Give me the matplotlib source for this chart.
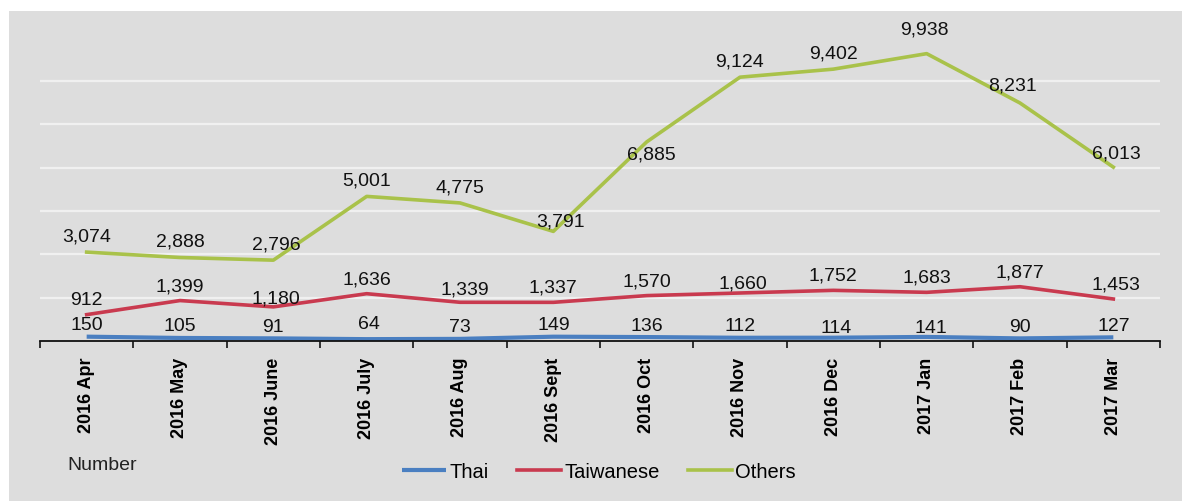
import matplotlib.pyplot as plt
import numpy as np
from matplotlib.patches import Rectangle

plt.rcParams['font.family'] = ['Liberation Sans', 'DejaVu Sans']

# monthly numbers, Apr 2016 - Mar 2017
months = ['2016 Apr', '2016 May', '2016 June', '2016 July', '2016 Aug',
          '2016 Sept', '2016 Oct', '2016 Nov', '2016 Dec', '2017 Jan',
          '2017 Feb', '2017 Mar']
thai = [150, 105, 91, 64, 73, 149, 136, 112, 114, 141, 90, 127]
taiwanese = [912, 1399, 1180, 1636, 1339, 1337, 1570, 1660, 1752, 1683,
             1877, 1453]
others = [3074, 2888, 2796, 5001, 4775, 3791, 6885, 9124, 9402, 9938,
          8231, 6013]

c_thai = '#4a7fc1'
c_taiw = '#c93a4f'
c_oth = '#a9c24a'

# label nudges (pixels) where the labels were moved by hand
nudge_oth = {2: (3, 0), 5: (7, 6), 6: (5, 28), 9: (-2, -9), 10: (-7, -2),
             11: (3, 2)}
nudge_taiw = {2: (3, 6), 4: (5, 2), 7: (3, 5), 11: (3, 0)}
nudge_thai = {3: (2, -4), 8: (3, 2), 9: (4, 3)}

fig = plt.figure(figsize=(11.82, 5.01), dpi=100)
fig.patch.set_facecolor('white')
fig.patches.append(Rectangle((9 / 1182, 0), 1, 490 / 501, transform=fig.transFigure,
                             facecolor='#dddddd', edgecolor='none', zorder=-10))

ax = fig.add_axes([40 / 1182, 160 / 501, 1120 / 1182, 0.606])
ax.set_facecolor('none')

x = np.arange(len(months))
ax.plot(x, thai, color=c_thai, lw=3, label='Thai', solid_capstyle='butt')
ax.plot(x, taiwanese, color=c_taiw, lw=2.6, label='Taiwanese')
ax.plot(x, others, color=c_oth, lw=2.6, label='Others')

ax.set_xlim(-0.5, len(months) - 0.5)
ax.set_ylim(0, 10500)
ax.set_yticks(np.arange(1500, 10500, 1500))
ax.yaxis.grid(True, color='#f0f0f0', lw=1.6)
ax.set_axisbelow(True)
ax.tick_params(axis='y', left=False, labelleft=False)

for s in ['top', 'right', 'left']:
    ax.spines[s].set_visible(False)
ax.spines['bottom'].set_color('#111111')
ax.spines['bottom'].set_linewidth(1.3)

ax.set_xticks(x)
ax.set_xticklabels(months, rotation=90, fontsize=13, fontweight='bold')
ax.tick_params(axis='x', which='major', length=0, pad=12)
ax.set_xticks(np.arange(-0.5, len(months), 1), minor=True)
ax.tick_params(axis='x', which='minor', length=5, width=1.2, color='#111111')


def put_labels(vals, nudge, dy):
    for i, v in enumerate(vals):
        dx, ddy = nudge.get(i, (0, 0))
        ax.annotate(f'{v:,}', (x[i], v), xytext=(dx, dy - ddy),
                    textcoords='offset pixels', ha='center', va='center',
                    fontsize=14, color='#111111')


put_labels(others, nudge_oth, 15)
put_labels(taiwanese, nudge_taiw, 14)
put_labels(thai, nudge_thai, 11)

fig.text(67 / 1182, 1 - 466 / 501, 'Number', fontsize=14, va='center',
         color='#222222')
fig.legend(loc='center', bbox_to_anchor=(599 / 1182, 1 - 472 / 501), ncol=3,
           frameon=False, fontsize=14.5, handlelength=2.2, handletextpad=0.15,
           columnspacing=1.4)

fig.savefig('out.png', dpi=100)
